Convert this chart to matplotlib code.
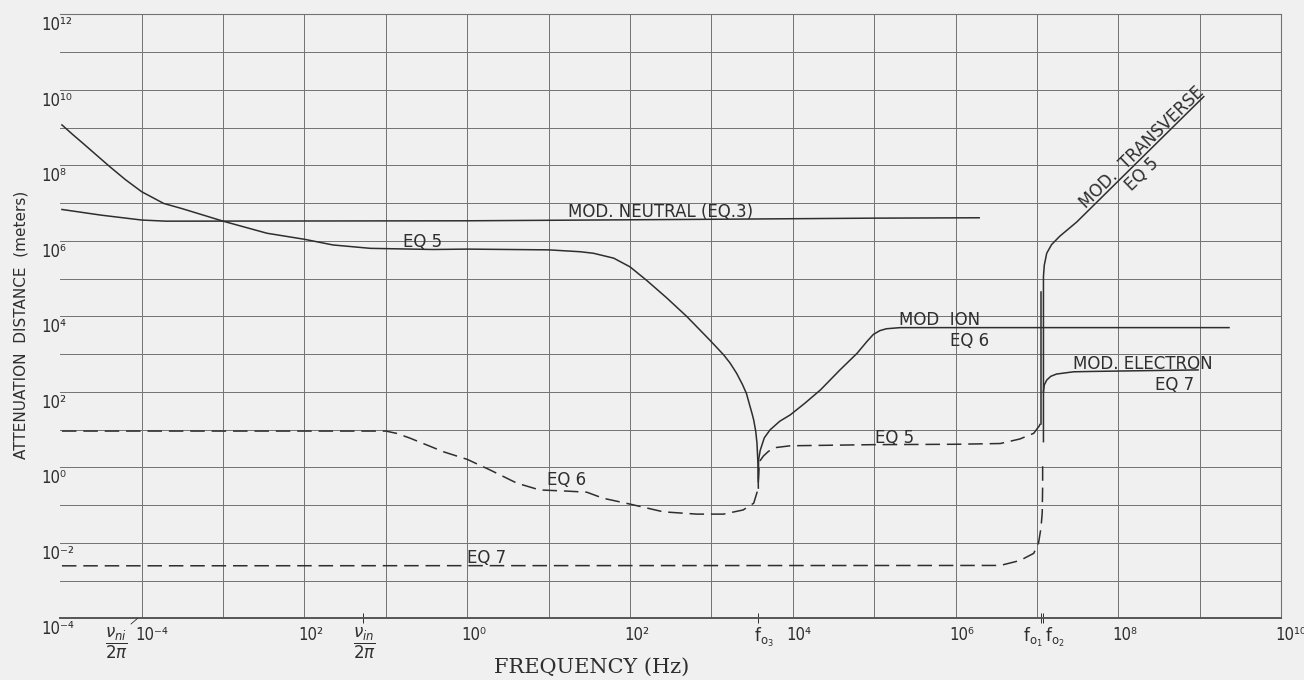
import numpy as np
import matplotlib
matplotlib.use('Agg')
import matplotlib.pyplot as plt
from matplotlib import font_manager
from matplotlib.ticker import FixedLocator, NullLocator, NullFormatter
from matplotlib.transforms import ScaledTranslation

# values as log10 exponents (frequency in Hz, distance in m)
neutral_lx = [-4.98, -4.5, -4.0, -3.7, 0.0, 3.0, 5.0, 6.29]
neutral_ly = [6.83, 6.68, 6.55, 6.52, 6.53, 6.57, 6.60, 6.61]

eq5_lx = [-4.98, -4.85, -4.72, -4.55, -4.39, -4.2, -4.0, -3.73, -3.5, -3.0, -2.46,
          -2.0, -1.65, -1.19, -0.42, 0.0, 1.0, 1.39, 1.55, 1.80, 2.0, 2.2, 2.45,
          2.7, 2.98, 3.15, 3.23, 3.31, 3.38, 3.43, 3.475, 3.50, 3.52, 3.545, 3.56,
          3.572, 3.577]
eq5_ly = [9.07, 8.82, 8.58, 8.26, 7.96, 7.62, 7.30, 6.99, 6.85, 6.52, 6.20,
          6.04, 5.89, 5.80, 5.77, 5.78, 5.76, 5.71, 5.67, 5.54, 5.31, 4.96, 4.49,
          3.99, 3.37, 2.98, 2.76, 2.49, 2.20, 1.96, 1.61, 1.42, 1.25, 0.95, 0.64,
          0.10, -0.55]

ion_lx = [3.577, 3.58, 3.60, 3.65, 3.72, 3.84, 3.97, 4.15, 4.34, 4.58, 4.79, 4.91,
          4.99, 5.07, 5.15, 5.32, 9.36]
ion_ly = [-0.3, 0.2, 0.45, 0.78, 0.99, 1.22, 1.39, 1.70, 2.05, 2.58, 3.02, 3.33,
          3.52, 3.62, 3.67, 3.70, 3.70]

eq5d_lx = [3.577, 3.585, 3.60, 3.64, 3.70, 3.78, 3.97, 5.0, 6.0, 6.55, 6.79, 6.96,
           7.03, 7.05]
eq5d_ly = [-0.4, 0.0, 0.18, 0.30, 0.42, 0.52, 0.57, 0.60, 0.61, 0.63, 0.75, 0.90,
           1.10, 1.20]

fo1_lx = [7.055, 7.055]
fo1_ly = [1.15, 4.65]

trans_lx = [7.08, 7.08, 7.09, 7.12, 7.18, 7.28, 7.49, 9.05]
trans_ly = [0.68, 5.05, 5.35, 5.67, 5.90, 6.12, 6.50, 9.82]

elec_lx = [7.08, 7.09, 7.12, 7.17, 7.24, 7.45, 7.69, 8.98]
elec_ly = [2.0, 2.18, 2.31, 2.41, 2.47, 2.53, 2.54, 2.58]

eq6_lx = [-4.98, -1.0, -0.87, -0.70, -0.29, 0.0, 0.28, 0.61, 0.89, 1.22, 1.47, 1.67,
          1.99, 2.41, 2.82, 3.15, 3.39, 3.52, 3.577]
eq6_ly = [0.96, 0.96, 0.90, 0.77, 0.41, 0.21, -0.07, -0.42, -0.60, -0.63, -0.66, -0.82,
          -0.97, -1.18, -1.24, -1.24, -1.13, -0.95, -0.55]

eq7_lx = [-4.98, 6.55, 6.79, 6.96, 7.02, 7.05, 7.065, 7.07, 7.07]
eq7_ly = [-2.61, -2.60, -2.47, -2.28, -2.0, -1.6, -1.2, -0.5, 0.12]

# special frequencies marked on the axis
nu_ni = 10 ** -4.05
nu_in = 10 ** -1.28
f_o3 = 10 ** 3.577
f_o1 = 10 ** 7.05
f_o2 = 10 ** 7.08

x_exps = list(range(-4, 11))
y_exps = list(range(-4, 13))
x_label_exps = [-4, -2, 0, 2, 4, 6, 8, 10]
x_label_text = ['10⁻⁴', '10²', '10⁰', '10²', '10⁴', '10⁶', '10⁸', '10¹⁰']
y_label_exps = [-4, -2, 0, 2, 4, 6, 8, 10, 12]
y_label_text = ['10⁻⁴', '10⁻²', '10⁰', '10²', '10⁴', '10⁶', '10⁸', '10¹⁰', '10¹²']

bg = '#f0f0f0'
ink = '#2e2e2e'
grid_col = '#727272'

fonts = font_manager.fontManager.ttflist
if any(f.name == 'Liberation Sans Narrow' for f in fonts):
    tick_font = dict(family=['Liberation Sans Narrow', 'DejaVu Sans'], size=13)
elif any(f.name == 'DejaVu Sans' and f.stretch == 'condensed' for f in fonts):
    tick_font = dict(family=['DejaVu Sans'], stretch='condensed', size=12)
else:
    tick_font = dict(family=['DejaVu Sans'], size=11)


def p10(v):
    return 10.0 ** np.asarray(v)


fig = plt.figure(figsize=(13.04, 6.8), dpi=100, facecolor=bg)
ax = fig.add_axes([60.3 / 1304, 1 - 618.3 / 680, 1220.8 / 1304, 604 / 680])
ax.set_facecolor(bg)
ax.set_xscale('log')
ax.set_yscale('log')
ax.set_xlim(1e-5, 1e10)
ax.set_ylim(1e-4, 1e12)

ax.xaxis.set_major_locator(FixedLocator(p10(x_exps)))
ax.yaxis.set_major_locator(FixedLocator(p10(y_exps)))
ax.xaxis.set_major_formatter(NullFormatter())
ax.yaxis.set_major_formatter(NullFormatter())
ax.xaxis.set_minor_locator(FixedLocator([nu_in, f_o3, f_o1, f_o2]))
ax.xaxis.set_minor_formatter(NullFormatter())
ax.yaxis.set_minor_locator(NullLocator())
ax.tick_params(which='major', length=0)
ax.tick_params(axis='x', which='minor', direction='inout', length=7, width=0.7,
               color=ink)
ax.grid(True, which='major', color=grid_col, lw=0.7)
ax.set_axisbelow(True)

ax.spines['left'].set_visible(False)
for s in ['top', 'right']:
    ax.spines[s].set_linewidth(0.8)
    ax.spines[s].set_color(grid_col)
ax.spines['bottom'].set_linewidth(1.4)
ax.spines['bottom'].set_color('#555555')

solid = dict(color=ink, lw=1.1)
dashed = dict(color=ink, lw=1.1, linestyle=(0, (9.5, 4.5)))

ax.plot(p10(neutral_lx), p10(neutral_ly), **solid)
ax.plot(p10(eq5_lx), p10(eq5_ly), **solid)
ax.plot(p10(ion_lx), p10(ion_ly), **solid)
ax.plot(p10(fo1_lx), p10(fo1_ly), **solid)
ax.plot(p10(trans_lx), p10(trans_ly), **solid)
ax.plot(p10(elec_lx), p10(elec_ly), **solid)
ax.plot(p10(eq5d_lx), p10(eq5d_ly), **dashed)
ax.plot(p10(eq6_lx), p10(eq6_ly), **dashed)
ax.plot(p10(eq7_lx), p10(eq7_ly), **dashed)

# curve labels
lab = dict(fontsize=12, color=ink, family='DejaVu Sans')
ax.text(10 ** 1.238, 10 ** 6.62, 'MOD. NEUTRAL (EQ.3)', ha='left', va='baseline', **lab)
ax.text(10 ** -0.79, 10 ** 5.84, 'EQ 5', ha='left', va='baseline', **lab)
ax.text(10 ** 5.306, 10 ** 3.77, 'MOD  ION', ha='left', va='baseline', **lab)
ax.text(10 ** 5.93, 10 ** 3.58, 'EQ 6', ha='left', va='top', **lab)
ax.text(10 ** 0.98, 10 ** -0.47, 'EQ 6', ha='left', va='baseline', **lab)
ax.text(10 ** 0.0, 10 ** -2.535, 'EQ 7', ha='left', va='baseline', **lab)
ax.text(10 ** 5.01, 10 ** 0.644, 'EQ 5', ha='left', va='baseline', **lab)
ax.text(10 ** 7.445, 10 ** 2.604, 'MOD. ELECTRON', ha='left', va='baseline', **lab)
ax.text(10 ** 8.45, 10 ** 2.42, 'EQ 7', ha='left', va='top', **lab)
ax.text(10 ** 8.29, 10 ** 8.48, 'MOD.  TRANSVERSE', ha='center', va='center',
        rotation=44.3, rotation_mode='anchor', **lab)
ax.text(10 ** 8.29, 10 ** 7.77, 'EQ 5', ha='center', va='center',
        rotation=44.3, rotation_mode='anchor', **lab)

# decade labels
dpi_tr = fig.dpi_scale_trans
y_tr = ax.get_yaxis_transform() + ScaledTranslation(-0.185, -0.02, dpi_tr)
for e, t in zip(y_label_exps, y_label_text):
    ax.text(0, 10.0 ** e, t, transform=y_tr, ha='left', va='top', color=ink,
            clip_on=False, **tick_font)
x_tr = ax.get_xaxis_transform() + ScaledTranslation(-0.06, -0.08, dpi_tr)
for e, t in zip(x_label_exps, x_label_text):
    ax.text(10.0 ** e, 0, t, transform=x_tr, ha='left', va='top', color=ink,
            clip_on=False, **tick_font)

# special frequency labels
ax.annotate(r'$\dfrac{\nu_{ni}}{2\pi}$', xy=(nu_ni, 0), xycoords=('data', 'axes fraction'),
            xytext=(-15, -18), textcoords='offset points', ha='center', va='center',
            fontsize=12, color=ink,
            arrowprops=dict(arrowstyle='-', lw=0.6, color=ink, relpos=(0.95, 0.95),
                            shrinkA=0, shrinkB=0))
ax.annotate(r'$\dfrac{\nu_{in}}{2\pi}$', xy=(nu_in, 0), xycoords=('data', 'axes fraction'),
            xytext=(1, -18), textcoords='offset points', ha='center', va='center',
            fontsize=12, color=ink)
ax.annotate(r'$\mathrm{f}_{\mathrm{o}_3}$', xy=(f_o3, 0), xycoords=('data', 'axes fraction'),
            xytext=(4, -14), textcoords='offset points', ha='center', va='center',
            fontsize=12, color=ink)
ax.annotate(r'$\mathrm{f}_{\mathrm{o}_1}$', xy=(f_o1, 0), xycoords=('data', 'axes fraction'),
            xytext=(-6, -14), textcoords='offset points', ha='center', va='center',
            fontsize=12, color=ink)
ax.annotate(r'$\mathrm{f}_{\mathrm{o}_2}$', xy=(f_o2, 0), xycoords=('data', 'axes fraction'),
            xytext=(8, -14), textcoords='offset points', ha='center', va='center',
            fontsize=12, color=ink)

fig.text(592 / 1304, 1 - 667 / 680, 'FREQUENCY (Hz)', ha='center', va='center',
         family='DejaVu Serif', fontsize=15, color=ink)
fig.text(21 / 1304, 1 - 325 / 680, 'ATTENUATION  DISTANCE  (meters)', ha='center',
         va='center', rotation=90, family='DejaVu Sans', fontsize=11, color=ink)

fig.savefig('out.png', dpi=100, facecolor=bg)
